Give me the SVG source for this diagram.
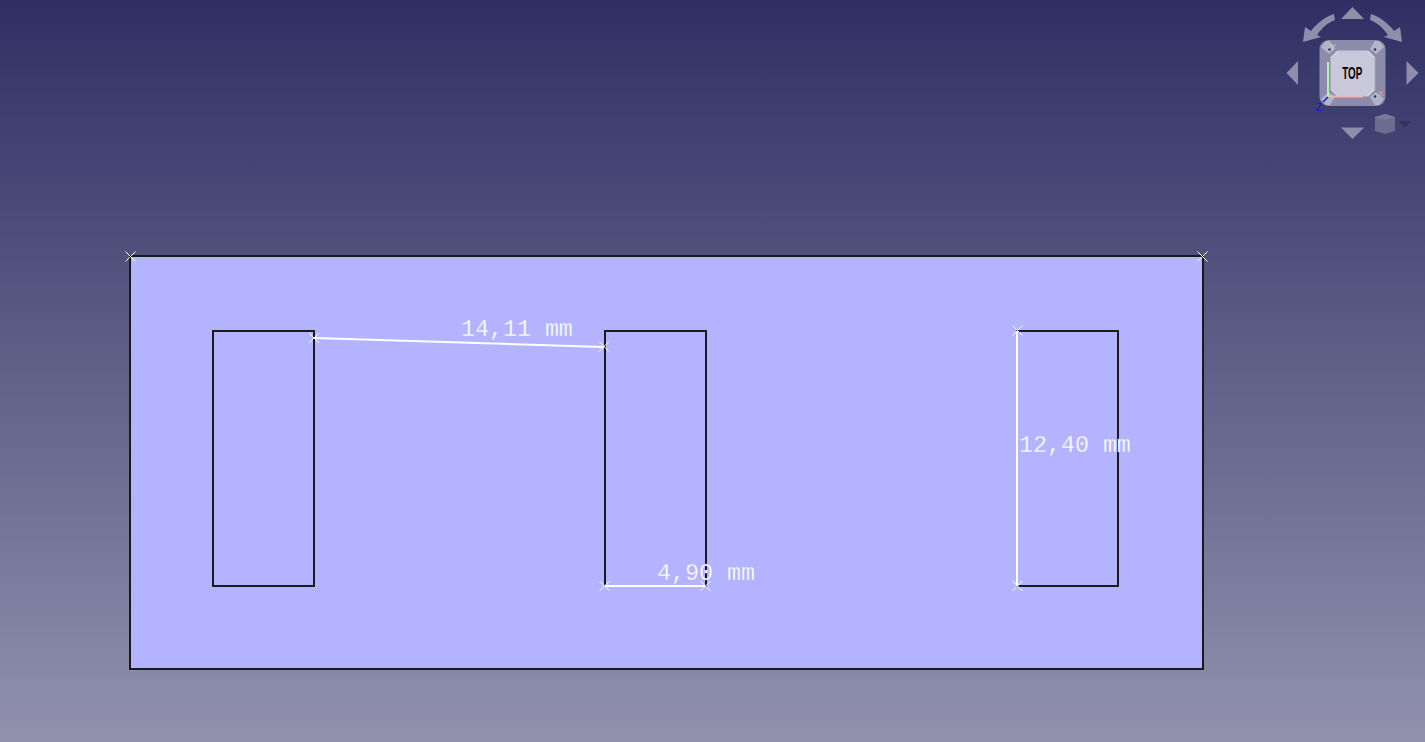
<svg xmlns="http://www.w3.org/2000/svg" width="1425" height="742" viewBox="0 0 1425 742">
<style>
.edge{fill:none;stroke:#1a1a1a;stroke-width:2}
.dim{stroke:#fff;stroke-width:2;fill:none}
.x{stroke:#fff;stroke-width:1;fill:none}
.label{font-family:"Liberation Mono",monospace;font-size:23.3px;fill:#fff;stroke:#b3b3ff;stroke-width:.3px}
.nav{fill:#8c8caa}
.arrow{fill:#8e8eab}
.corner{fill:#b4b4c9}
.dot{fill:#33335c}
.chamfer{stroke:#dcdce8;stroke-width:1;fill:none}
</style>
<defs>
<linearGradient id="bg" x1="0" y1="0" x2="0" y2="1">
<stop offset="0" stop-color="#2f2f64"/>
<stop offset="1" stop-color="#9191ae"/>
</linearGradient>
<path id="cross" class="x" d="M-5-5L5 5M-5 5L5-5"/>
</defs>
<rect id="background" width="1425" height="742" fill="url(#bg)"/>
<g id="plate">
<rect x="130" y="256" width="1073" height="413" fill="#b3b3ff" stroke="#1a1a1a" stroke-width="2"/>
</g>
<g id="slot-left"><rect class="edge" x="213" y="331" width="101" height="255"/></g>
<g id="slot-middle"><rect class="edge" x="605" y="331" width="101" height="255"/></g>
<g id="slot-right"><rect class="edge" x="1017" y="331" width="101" height="255"/></g>
<g id="connectors">
<path class="dim" d="M314 338L603 347"/>
<path class="dim" d="M605 586H705"/>
<path class="dim" d="M1017 331V586"/>
</g>
<g id="points">
<use href="#cross" x="130.500" y="256.500"/>
<use href="#cross" x="1202.500" y="256.500"/>
<use href="#cross" x="314" y="338"/>
<use href="#cross" x="604" y="346.500"/>
<use href="#cross" x="604.500" y="586"/>
<use href="#cross" x="705.500" y="586"/>
<use href="#cross" x="1017.500" y="330.500"/>
<use href="#cross" x="1017.500" y="586"/>
</g>
<g id="labels">
<text class="label" x="461" y="336">14,11 mm</text>
<text class="label" x="657" y="580">4,90 mm</text>
<text class="label" x="1019" y="452">12,40 mm</text>
</g>
<g id="navcube">
<path class="arrow" d="M1352.500 7L1364 19H1341Z"/>
<path class="arrow" d="M1352.500 139L1341 127.500H1364Z"/>
<path class="arrow" d="M1286.500 73L1298 61V85Z"/>
<path class="arrow" d="M1418.500 73L1406.500 61V85Z"/>
<path class="arrow" d="M1303 42L1305 27L1311 31C1317 23 1325 17 1334 14L1335 20C1327 23 1322 28 1317 35L1321 37Z"/>
<path class="arrow" d="M1402 42L1400 27L1394 31C1388 23 1380 17 1371 14L1370 20C1378 23 1383 28 1388 35L1384 37Z"/>
<rect x="1319.500" y="40" width="66" height="66" rx="9" class="nav"/>
<path class="corner" d="M1321 47L1326 41H1330L1335 49L1329 54Z"/>
<path class="corner" d="M1384 47L1379 41H1375L1370 49L1376 54Z"/>
<path class="corner" d="M1321 99L1326 105H1330L1335 97L1329 92Z"/>
<path class="corner" d="M1384 99L1379 105H1375L1370 97L1376 92Z"/>
<path d="M1337 50.500H1368.500L1375 57V90L1368.500 96.500H1337L1330.500 90V57Z" fill="#c8c8da" stroke="#a6a6bd" stroke-width="1"/>
<path class="chamfer" d="M1331 58L1338 51M1374 58L1367 51M1331 89L1338 96M1374 89L1367 96"/>
<rect x="1327" y="62" width="2" height="35" fill="#b4f2b4"/>
<rect x="1329" y="95.500" width="34" height="2" fill="#f7b4b4"/>
<path d="M1328 97L1323 102" stroke="#1414e0" stroke-width="1.500"/>
<circle class="dot" cx="1375" cy="49.500" r="1.300"/>
<circle class="dot" cx="1375" cy="96.500" r="1.300"/>
<circle class="dot" cx="1329.500" cy="49.500" r="1.300"/>
<text x="1352.200" y="79" text-anchor="middle" font-family="'Liberation Sans',sans-serif" font-weight="700" font-size="16.500" fill="#000" textLength="20" lengthAdjust="spacingAndGlyphs">TOP</text>
<text x="1330.500" y="49" font-family="'Liberation Sans',sans-serif" font-size="8" fill="#a8f0a8">Y</text>
<text x="1378" y="96" font-family="'Liberation Sans',sans-serif" font-size="8" fill="#f0a8a8">X</text>
<text x="1316" y="110.500" font-family="'Liberation Sans',sans-serif" font-size="10" fill="#1414e0">Z</text>
<path d="M1385 114L1395 117V131L1385 134L1375 131V117Z" fill="#6c6c8e"/>
<path d="M1375 117L1385 114L1395 117L1385 120Z" fill="#7b7b99"/>
<path d="M1399 121H1411.500L1405 127.300Z" fill="#33335f"/>
</g>
</svg>
